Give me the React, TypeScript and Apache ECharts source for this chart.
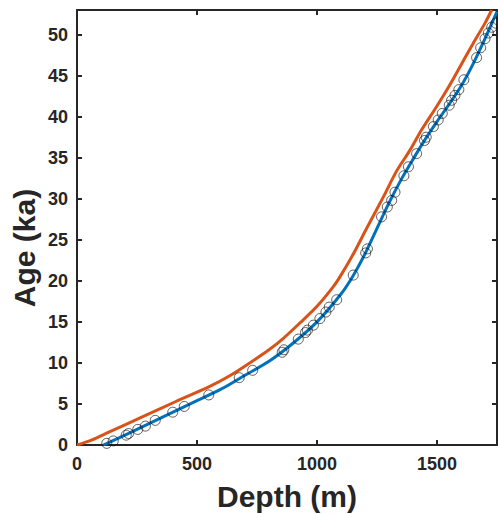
import React, { useEffect, useRef } from "react";
import * as echarts from "echarts";

// Measured sample ages (blue circles)
const sampleDepth = [124, 151, 205, 215, 253, 285, 326, 399, 447, 549, 676, 732, 855, 862, 922, 952, 960, 985, 1012, 1037, 1051, 1082, 1151, 1203, 1210, 1269, 1293, 1311, 1325, 1362, 1381, 1415, 1448, 1455, 1485, 1505, 1522, 1551, 1561, 1575, 1591, 1612, 1665, 1682, 1700, 1714, 1728, 1745];
const sampleAge = [0.2, 0.5, 1.2, 1.4, 1.9, 2.3, 3.0, 4.0, 4.7, 6.1, 8.2, 9.1, 11.3, 11.6, 12.9, 13.7, 14.0, 14.6, 15.4, 16.2, 16.8, 17.7, 20.7, 23.4, 23.9, 27.8, 29.0, 29.8, 30.8, 32.8, 33.9, 35.5, 37.1, 37.5, 38.8, 39.6, 40.4, 41.4, 42.0, 42.6, 43.3, 44.5, 47.2, 48.4, 49.5, 50.2, 50.9, 51.4];

// Blue model curve
const blueDepth = [110, 200, 300, 400, 500, 600, 700, 800, 900, 1000, 1100, 1150, 1200, 1250, 1300, 1350, 1400, 1450, 1500, 1550, 1600, 1650, 1700, 1750];
const blueAge = [0, 1.2, 2.6, 4.0, 5.4, 6.8, 8.5, 10.2, 12.4, 15.0, 18.4, 20.6, 23.3, 26.4, 29.5, 32.3, 34.8, 37.2, 39.4, 41.5, 43.7, 46.4, 49.5, 52.8];

// Orange model curve
const orangeDepth = [0, 60, 135, 274, 412, 551, 640, 720, 800, 860, 930, 1000, 1068, 1100, 1150, 1207, 1276, 1332, 1387, 1436, 1500, 1550, 1600, 1650, 1700, 1728];
const orangeAge = [0, 0.6, 1.6, 3.45, 5.3, 7.1, 8.5, 10.0, 11.6, 13.0, 14.9, 16.9, 19.3, 20.7, 23.2, 26.4, 30.2, 33.4, 35.9, 38.4, 41.3, 43.7, 46.3, 48.9, 51.4, 53];

const xTicks = { min: 0, max: 1750, interval: 500 };
const yTicks = { min: 0, max: 53, interval: 5 };

const AXIS_COLOR = "#262626";

export default function App() {
  const ref = useRef<HTMLDivElement>(null);
  useEffect(() => {
    document.body.style.margin = "0";
    const chart = echarts.init(ref.current!, null, { renderer: "svg" });
    const labelStyle = {
      color: AXIS_COLOR,
      fontFamily: "Liberation Sans, Arial, sans-serif",
      fontSize: 18,
      fontWeight: "bold" as const,
    };
    const axisLine = { show: true, onZero: false, lineStyle: { color: AXIS_COLOR, width: 2 } };
    const axisTick = { show: true, inside: true, length: 5, lineStyle: { color: AXIS_COLOR, width: 2 } };
    chart.setOption({
      animation: false,
      backgroundColor: "#ffffff",
      grid: { left: 77, right: 1, top: 10, bottom: 69, containLabel: false, outerBoundsMode: "none" },
      xAxis: [
        {
          type: "value",
          position: "bottom",
          min: xTicks.min,
          max: xTicks.max,
          interval: xTicks.interval,
          axisLine,
          axisTick,
          splitLine: { show: false },
          axisLabel: { ...labelStyle, margin: 10, showMaxLabel: false, formatter: (v: number) => String(v) },
          name: "Depth (m)",
          nameLocation: "middle",
          nameGap: 36,
          nameTextStyle: {
            color: AXIS_COLOR,
            fontFamily: "Liberation Sans, Arial, sans-serif",
            fontSize: 30,
            fontWeight: "bold",
          },
        },
        {
          type: "value",
          position: "top",
          min: xTicks.min,
          max: xTicks.max,
          interval: xTicks.interval,
          axisLine,
          axisTick,
          splitLine: { show: false },
          axisLabel: { show: false },
        },
      ],
      yAxis: [
        {
          type: "value",
          position: "left",
          min: yTicks.min,
          max: yTicks.max,
          interval: yTicks.interval,
          axisLine,
          axisTick,
          splitLine: { show: false },
          axisLabel: { ...labelStyle, margin: 9, showMaxLabel: false, formatter: (v: number) => String(v) },
        },
        {
          type: "value",
          position: "right",
          min: yTicks.min,
          max: yTicks.max,
          interval: yTicks.interval,
          axisLine,
          axisTick,
          splitLine: { show: false },
          axisLabel: { show: false },
        },
      ],
      graphic: [
        {
          type: "text",
          x: 24,
          y: 248,
          rotation: Math.PI / 2,
          style: {
            text: "Age (ka)",
            fill: AXIS_COLOR,
            font: "bold 30px 'Liberation Sans', Arial, sans-serif",
            align: "center",
            verticalAlign: "middle",
          },
        },
      ],
      series: [
        {
          type: "line",
          data: orangeDepth.map((d, i) => [d, orangeAge[i]]),
          showSymbol: false,
          smooth: 0.3,
          lineStyle: { color: "#D95319", width: 3 },
          itemStyle: { color: "#D95319" },
          z: 2,
        },
        {
          type: "line",
          data: blueDepth.map((d, i) => [d, blueAge[i]]),
          showSymbol: false,
          smooth: 0.3,
          lineStyle: { color: "#0072BD", width: 3 },
          itemStyle: { color: "#0072BD" },
          z: 3,
        },
        {
          type: "scatter",
          data: sampleDepth.map((d, i) => [d, sampleAge[i]]),
          symbol: "circle",
          symbolSize: 10,
          itemStyle: { color: "rgba(0,0,0,0)", borderColor: "rgba(20,20,20,0.85)", borderWidth: 1 },
          z: 4,
        },
      ],
    });
    return () => chart.dispose();
  }, []);
  return <div ref={ref} style={{ position: "absolute", left: 0, top: 0, width: 498, height: 514 }} />;
}
